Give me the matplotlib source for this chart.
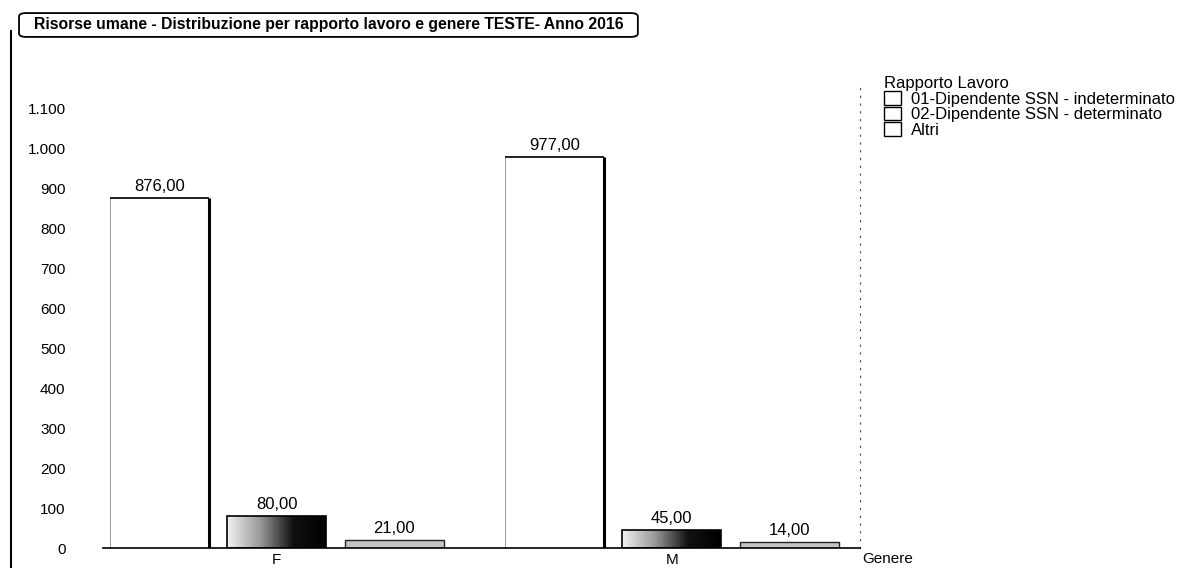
import numpy as np
import matplotlib
matplotlib.use("Agg")
import matplotlib.pyplot as plt
from matplotlib.patches import Patch, FancyBboxPatch
from matplotlib.lines import Line2D
from matplotlib.colors import LinearSegmentedColormap
from matplotlib.ticker import FuncFormatter

plt.rcParams['font.family'] = ['Liberation Sans', 'DejaVu Sans']

# dati
generi = ["F", "M"]
serie = ["01-Dipendente SSN - indeterminato", "02-Dipendente SSN - determinato", "Altri"]
indeterminato = [876, 977]
determinato = [80, 45]
altri = [21, 14]

fig = plt.figure(figsize=(11.9, 5.68), dpi=100)
ax = fig.add_axes([0.0866, 0.0352, 0.636, 0.845])

x = np.arange(len(generi))
w = 0.25
off = 0.297

b1 = ax.bar(x - off, indeterminato, w, color="white", edgecolor="#999999", linewidth=0.7, zorder=2)
b2 = ax.bar(x, determinato, w, color="none", edgecolor="black", linewidth=1.2, zorder=3)
b3 = ax.bar(x + off, altri, w, color="#c4c4c4", edgecolor="#222222", linewidth=1.0, zorder=2)

# gradiente per la serie "determinato"
cmap = LinearSegmentedColormap.from_list("g", ["#f2f2f2", "#9a9a9a", "#111111", "#000000"])
grad = np.linspace(0, 1, 256).reshape(1, -1)
for r in b2:
    bx, by = r.get_x(), r.get_y()
    im = ax.imshow(grad, cmap=cmap, aspect="auto", zorder=2.5,
                   extent=[bx, bx + r.get_width(), by, by + r.get_height()])
    im.set_clip_path(r)

# bordo superiore e destro scuro delle barre
for r in b1:
    xr = r.get_x() + r.get_width()
    ax.vlines(xr, 0, r.get_height(), color="black", lw=2.2, zorder=4)
    ax.hlines(r.get_height(), r.get_x(), xr, color="#222222", lw=1.4, zorder=4)

for bars, vals in [(b1, indeterminato), (b2, determinato), (b3, altri)]:
    for r, v in zip(bars, vals):
        ax.text(r.get_x() + r.get_width() / 2, v + 10, f"{v:.2f}".replace(".", ","),
                ha="center", va="bottom", fontsize=12, color="black")

ax.set_xlim(-0.44, 1.476)
ax.set_ylim(0, 1200)
ax.set_xticks(x)
ax.set_xticklabels(generi, fontsize=11)
ax.set_yticks(np.arange(0, 1101, 100))
ax.yaxis.set_major_formatter(FuncFormatter(lambda v, p: f"{int(v):,}".replace(",", ".")))
ax.tick_params(axis="both", length=0, labelsize=11)
ax.tick_params(axis="y", pad=27)
for s in ["top", "left"]:
    ax.spines[s].set_visible(False)
ax.spines["bottom"].set_linewidth(1.2)
ax.spines["right"].set_linestyle((0, (1, 6)))
ax.spines["right"].set_color("#444444")
ax.spines["right"].set_bounds(0, 1150)

fig.text(0.7245, 0.0352 - 0.007, "Genere", fontsize=11, va="top", ha="left")

# titolo nel riquadro arrotondato
box = FancyBboxPatch((0.016, 0.935), 0.520, 0.042, boxstyle="round,pad=0,rounding_size=0.006",
                     transform=fig.transFigure, facecolor="white", edgecolor="black", linewidth=1.3)
fig.add_artist(box)
fig.text(0.276, 0.956, "Risorse umane - Distribuzione per rapporto lavoro e genere TESTE- Anno 2016",
         fontsize=11.3, fontweight="bold", ha="center", va="center")

# bordo della scansione
fig.add_artist(Line2D([0.009, 0.009], [0.0, 0.945], transform=fig.transFigure, color="black", lw=1.5))

handles = [Patch(facecolor="white", edgecolor="black", linewidth=1.0) for _ in serie]
leg = fig.legend(handles, serie, loc="upper left", bbox_to_anchor=(0.733, 0.887), frameon=False,
                 title="Rapporto Lavoro", fontsize=12, title_fontsize=12,
                 handlelength=1.0, handleheight=0.9, handletextpad=0.6, labelspacing=0.0,
                 borderpad=0.2)
leg._legend_box.align = "left"

fig.savefig("out.png", dpi=100)
